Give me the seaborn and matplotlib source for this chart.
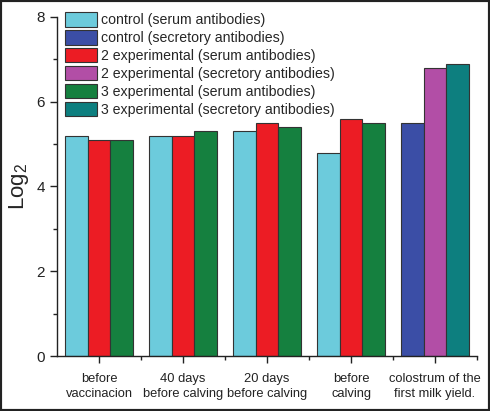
import matplotlib
matplotlib.use("Agg")
import matplotlib.pyplot as plt
import seaborn as sns
import pandas as pd
import numpy as np
from matplotlib.patches import Patch, Rectangle
from matplotlib.ticker import MultipleLocator

categories = ["before\nvaccinacion", "40 days\nbefore calving", "20 days\nbefore calving",
              "before\ncalving", "colostrum of the\nfirst milk yield."]
series = ["control (serum antibodies)", "control (secretory antibodies)",
          "2 experimental (serum antibodies)", "2 experimental (secretory antibodies)",
          "3 experimental (serum antibodies)", "3 experimental (secretory antibodies)"]
colors = ["#6ccbdc", "#3b4ea6", "#ec1c24", "#b24ea6", "#15803f", "#0d7f7f"]

# per-category series shown (three bars each)
control_vals = [5.2, 5.2, 5.3, 4.8, 5.5]
exp2_vals = [5.1, 5.2, 5.5, 5.6, 6.8]
exp3_vals = [5.1, 5.3, 5.4, 5.5, 6.9]
control_series = [0, 0, 0, 0, 1]
exp2_series = [2, 2, 2, 2, 3]
exp3_series = [4, 4, 4, 4, 5]

rows = []
for i, c in enumerate(categories):
    rows.append((c, "a", control_vals[i], control_series[i]))
    rows.append((c, "b", exp2_vals[i], exp2_series[i]))
    rows.append((c, "c", exp3_vals[i], exp3_series[i]))
df = pd.DataFrame(rows, columns=["cat", "slot", "val", "ser"])

sns.set_style("white")
plt.rcParams['font.family'] = ['Liberation Sans', 'DejaVu Sans']
plt.rcParams['mathtext.fontset'] = 'custom'
plt.rcParams['mathtext.rm'] = 'Liberation Sans'
plt.rcParams['mathtext.it'] = 'Liberation Sans'

fig = plt.figure(figsize=(4.9, 4.11), dpi=100)
ax = fig.add_axes([57/490, 1-356/411, (477-57)/490, (356-17)/411])

sns.barplot(data=df, x="cat", y="val", hue="slot", order=categories,
            hue_order=["a", "b", "c"], dodge=True, width=0.8, ax=ax,
            edgecolor="#333333", linewidth=0.8, legend=False, errorbar=None)

# recolor bars by series
for k, cont in enumerate(ax.containers):
    sub = df[df.slot == "abc"[k]].set_index("cat").loc[categories]
    for bar, s in zip(cont, sub["ser"]):
        bar.set_facecolor(colors[s])

ax.set_xlim(-0.5, 4.5)
ax.set_ylim(0, 8)
ax.yaxis.set_major_locator(MultipleLocator(2))
ax.yaxis.set_minor_locator(MultipleLocator(1))
ax.set_xticks(range(5))
ax.set_xticks(np.arange(0.5, 5, 1), minor=True)
ax.set_xticklabels(categories, fontsize=9.3, linespacing=1.35)
ax.tick_params(axis="both", which="major", direction="out", length=5, width=1, colors="#222222", labelcolor="#222222", bottom=True, left=True)
ax.tick_params(axis="both", which="minor", direction="out", length=3, width=1, colors="#222222", bottom=True, left=True)
ax.tick_params(axis="y", labelsize=11)
ax.tick_params(axis="x", pad=7)
for s in ["top", "right"]:
    ax.spines[s].set_visible(False)
for s in ["left", "bottom"]:
    ax.spines[s].set_color("#222222")
    ax.spines[s].set_linewidth(1)
ax.set_xlabel("")
ax.set_ylabel(r"Log$_\mathrm{2}$", fontsize=16, labelpad=4)

handles = [Patch(facecolor=colors[i], edgecolor="#333333", linewidth=0.8, label=series[i]) for i in range(6)]
ax.legend(handles=handles, loc="upper left", bbox_to_anchor=(0.005, 1.03), frameon=False,
          fontsize=10.2, handlelength=2.3, handleheight=1.15, handletextpad=0.25,
          labelspacing=0.22, borderaxespad=0)

fig.patches.append(Rectangle((0, 0), 1, 1, transform=fig.transFigure, fill=False,
                             edgecolor="#222222", linewidth=3))
fig.savefig("out.png", dpi=100)
